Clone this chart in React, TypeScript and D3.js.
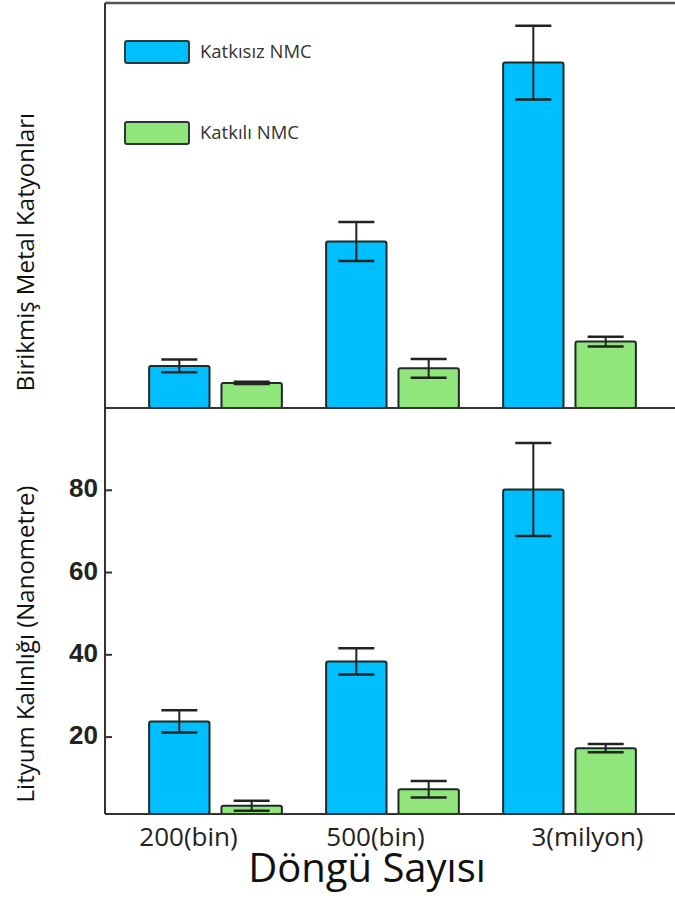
import React from 'react';
import * as d3 from 'd3';

// cycle counts (x categories) and the two cathode series
const cycles = ['200(bin)', '500(bin)', '3(milyon)'];
const seriesNames = ['Katkısız NMC', 'Katkılı NMC'];
const seriesColors = ['#00BFFF', '#90E67B'];

// top panel: accumulated metal cations (no numeric axis, arbitrary units)
const cationUndoped = [10.4, 41.1, 85.3];
const cationUndopedErr = [1.6, 4.8, 9.1];
const cationDoped = [6.2, 9.8, 16.4];
const cationDopedErr = [0.3, 2.3, 1.2];

// bottom panel: lithium thickness (nm)
const lithiumUndoped = [23.8, 38.4, 80.2];
const lithiumUndopedErr = [2.7, 3.2, 11.3];
const lithiumDoped = [3.3, 7.3, 17.3];
const lithiumDopedErr = [1.2, 2.0, 1.0];
const lithiumTicks = [20, 40, 60, 80];

const width = 675;
const height = 899;
const plotLeft = 105;
const plotRight = 675;
const topY = 3;
const midY = 408;
const bottomY = 814;
const axisColor = '#333';
const labelNudge = [-27, -17, 18]; // x labels in the original are not centred on groups

export default function App() {
    const x0 = d3.scaleBand()
        .domain(cycles)
        .range([127, 658])
        .paddingInner(0.25)
        .paddingOuter(0.125);

    const x1 = d3.scaleBand()
        .domain(seriesNames)
        .range([0, x0.bandwidth()])
        .paddingInner(0.165);

    const yTop = d3.scaleLinear().domain([0, 100]).range([midY, topY]);
    const yBottom = d3.scaleLinear().domain([1.3, 100]).range([bottomY, midY]);

    const panels = [
        { y: yTop, base: midY, values: [cationUndoped, cationDoped], errs: [cationUndopedErr, cationDopedErr] },
        { y: yBottom, base: bottomY, values: [lithiumUndoped, lithiumDoped], errs: [lithiumUndopedErr, lithiumDopedErr] },
    ];

    const capW = 36;

    return (
        <svg width={width} height={height} style={{ position: 'absolute', left: 0, top: 0, background: '#fff' }}>
            {/* bars + error bars */}
            {panels.map((p, pi) => (
                <g key={pi}>
                    {p.values.map((vals, si) => vals.map((v, ci) => {
                        const bx = x0(cycles[ci]) + x1(seriesNames[si]);
                        const bw = x1.bandwidth();
                        const cx = bx + bw / 2;
                        const e = p.errs[si][ci];
                        return (
                            <g key={`${si}-${ci}`}>
                                <rect
                                    x={bx}
                                    y={p.y(v)}
                                    width={bw}
                                    height={p.base - p.y(v)}
                                    rx={2}
                                    fill={seriesColors[si]}
                                    stroke="#1c2a2a"
                                    strokeWidth={2}
                                />
                                <line x1={cx} x2={cx} y1={p.y(v + e)} y2={p.y(v - e)} stroke="#222" strokeWidth={2} />
                                <line x1={cx - capW / 2} x2={cx + capW / 2} y1={p.y(v + e)} y2={p.y(v + e)} stroke="#222" strokeWidth={2.5} />
                                <line x1={cx - capW / 2} x2={cx + capW / 2} y1={p.y(v - e)} y2={p.y(v - e)} stroke="#222" strokeWidth={2.5} />
                            </g>
                        );
                    }))}
                </g>
            ))}

            {/* frame / axes */}
            <line x1={plotLeft} x2={plotRight} y1={topY} y2={topY} stroke="#555" strokeWidth={2.5} />
            <line x1={plotLeft} x2={plotLeft} y1={topY} y2={bottomY} stroke={axisColor} strokeWidth={2} />
            <line x1={plotLeft} x2={plotRight} y1={midY} y2={midY} stroke={axisColor} strokeWidth={2} />
            <line x1={plotLeft} x2={plotRight} y1={bottomY} y2={bottomY} stroke={axisColor} strokeWidth={2} />

            {/* bottom panel y ticks */}
            {lithiumTicks.map(t => (
                <g key={t}>
                    <line x1={plotLeft} x2={plotLeft + 7} y1={yBottom(t)} y2={yBottom(t)} stroke={axisColor} strokeWidth={2} />
                    <text
                        x={plotLeft - 7}
                        y={yBottom(t) - 2}
                        dy="0.35em"
                        textAnchor="end"
                        fontFamily="'Liberation Sans', Arial, sans-serif"
                        fontWeight="bold"
                        fontSize={26}
                        fill="#222"
                    >
                        {t}
                    </text>
                </g>
            ))}

            {/* x labels */}
            {cycles.map((c, i) => (
                <text
                    key={c}
                    x={x0(c) + x0.bandwidth() / 2 + labelNudge[i]}
                    y={846}
                    textAnchor="middle"
                    fontFamily="'Open Sans', sans-serif"
                    fontSize={26}
                    fill="#222"
                >
                    {c}
                </text>
            ))}
            <text x={367} y={882} textAnchor="middle" fontFamily="'Open Sans', sans-serif" fontSize={40} fill="#111">
                Döngü Sayısı
            </text>

            {/* y axis titles */}
            <text
                transform={`translate(34, 252) rotate(-90)`}
                textAnchor="middle"
                fontFamily="'Open Sans', sans-serif"
                fontSize={24}
                fill="#111"
            >
                Birikmiş Metal Katyonları
            </text>
            <text
                transform={`translate(34, 644) rotate(-90)`}
                textAnchor="middle"
                fontFamily="'Open Sans', sans-serif"
                fontSize={24}
                fill="#111"
            >
                Lityum Kalınlığı (Nanometre)
            </text>

            {/* legend */}
            {seriesNames.map((s, i) => (
                <g key={s} transform={`translate(125, ${41 + i * 81})`}>
                    <rect width={64} height={22} rx={2} fill={seriesColors[i]} stroke="#2a3a3a" strokeWidth={2} />
                    <text x={75} y={11} dy="0.35em" fontFamily="'Open Sans', sans-serif" fontSize={18.5} fill="#333">
                        {s}
                    </text>
                </g>
            ))}
        </svg>
    );
}
